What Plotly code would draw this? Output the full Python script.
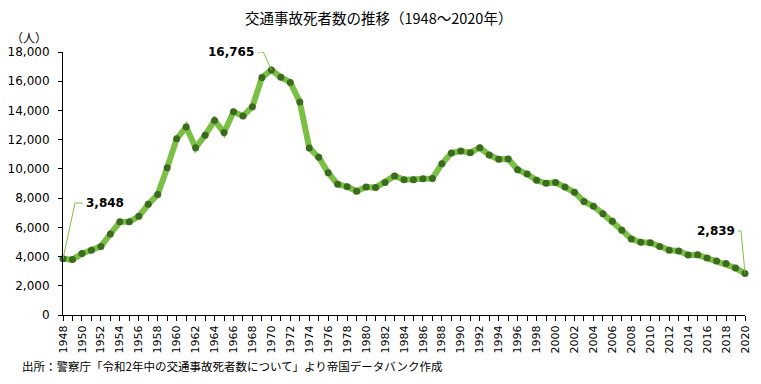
import plotly.graph_objects as go

years = list(range(1948, 2021))
deaths = [3848, 3790, 4202, 4429, 4696, 5544, 6374, 6379, 6751, 7575,
          8248, 10079, 12055, 12865, 11445, 12301, 13318, 12484, 13904, 13618,
          14256, 16257, 16765, 16278, 15918, 14574, 11432, 10792, 9734, 8945,
          8783, 8466, 8760, 8719, 9073, 9520, 9262, 9261, 9317, 9347,
          10344, 11086, 11227, 11109, 11452, 10945, 10653, 10684, 9943, 9642,
          9214, 9012, 9073, 8757, 8396, 7768, 7436, 6937, 6415, 5796,
          5209, 4979, 4948, 4691, 4438, 4388, 4113, 4117, 3904, 3694,
          3532, 3215, 2839]
tick_text = [str(y) if y % 2 == 0 else "" for y in years]
y_ticks = list(range(0, 18001, 2000))

title = "交通事故死者数の推移（1948～2020年）"
source = "出所：警察庁「令和2年中の交通事故死者数について」より帝国データバンク作成"
unit = "（人）"

JP = "Noto Sans CJK JP"
NUM = "DejaVu Sans"

fig = go.Figure()
fig.add_trace(go.Scatter(
    x=years, y=deaths, mode="lines+markers",
    line=dict(color="#7cbf45", width=6),
    marker=dict(color="#3b6b1f", size=7),
    cliponaxis=False, showlegend=False, hoverinfo="x+y"))

# leader lines (offsets from the labelled points)
i0, ipk, i1 = 0, deaths.index(max(deaths)), len(deaths) - 1
leaders = [
    ([years[i0], years[i0] + 1.27, years[i0] + 2.1],
     [deaths[i0], 7665, 7665]),
    ([years[ipk], years[ipk] - 0.85, years[ipk] - 1.5],
     [deaths[ipk], 18000, 18000]),
    ([years[i1], years[i1] - 0.42, years[i1] - 0.74],
     [deaths[i1], 5750, 5750]),
]
for lx, ly in leaders:
    fig.add_trace(go.Scatter(x=lx, y=ly, mode="lines",
                             line=dict(color="#7cbf45", width=1),
                             cliponaxis=False, showlegend=False,
                             hoverinfo="skip"))

fig.add_annotation(x=years[i0] + 2.2, y=7665, text="<b>{:,}</b>".format(deaths[i0]),
                   showarrow=False, xanchor="left", yanchor="middle",
                   font=dict(family=NUM, size=12, color="black"))
fig.add_annotation(x=years[ipk] - 1.6, y=18000, text="<b>{:,}</b>".format(deaths[ipk]),
                   showarrow=False, xanchor="right", yanchor="middle",
                   font=dict(family=NUM, size=12, color="black"))
fig.add_annotation(x=years[i1] - 0.85, y=5750, text="<b>{:,}</b>".format(deaths[i1]),
                   showarrow=False, xanchor="right", yanchor="middle",
                   font=dict(family=NUM, size=12, color="black"))

fig.add_annotation(xref="paper", yref="paper", x=0.5, xshift=-26, y=1, yshift=35,
                   text=title, showarrow=False, xanchor="center", yanchor="middle",
                   font=dict(family=JP, size=14.5, color="black"))
fig.add_annotation(xref="paper", yref="paper", x=0, xshift=-34, y=1, yshift=15,
                   text=unit, showarrow=False, xanchor="center", yanchor="middle",
                   font=dict(family=JP, size=12, color="black"))
fig.add_annotation(xref="paper", yref="paper", x=0, xshift=-43, y=0, yshift=-51,
                   text=source, showarrow=False, xanchor="left", yanchor="middle",
                   font=dict(family=JP, size=11.5, color="black"))

# page body has an 8px default margin, so the figure is 8px smaller
fig.update_layout(
    width=753, height=376,
    margin=dict(l=55, r=16, t=44, b=69),
    paper_bgcolor="white", plot_bgcolor="white",
    font=dict(family=NUM, size=12, color="black"),
    xaxis=dict(range=[1948, 2020], tickmode="array", tickvals=years,
               ticktext=tick_text, tickangle=-90, ticks="outside", ticklen=5,
               tickcolor="black", showline=True, linecolor="black",
               showgrid=False, zeroline=False, automargin=False,
               tickfont=dict(size=11, family=NUM)),
    yaxis=dict(range=[0, 18000], tickmode="array", tickvals=y_ticks,
               ticktext=["{:,}".format(v) for v in y_ticks],
               ticks="outside", ticklen=4, tickcolor="black",
               ticklabelstandoff=6,
               showline=True, linecolor="black", showgrid=False,
               zeroline=False, automargin=False,
               tickfont=dict(size=12, family=NUM)),
)

fig.write_html("out.html")
